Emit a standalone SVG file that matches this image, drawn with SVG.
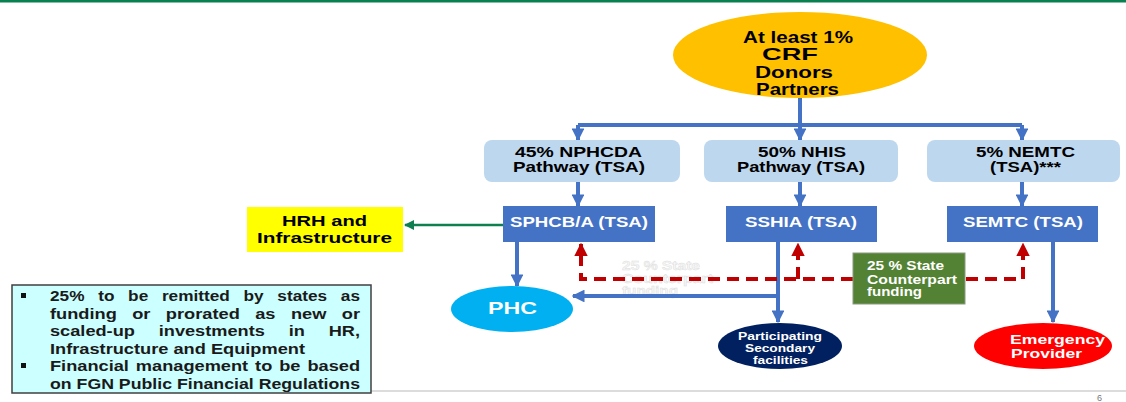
<svg xmlns="http://www.w3.org/2000/svg" width="1126" height="402" viewBox="0 0 1126 402">
<defs>
<style>
.t{font-family:"Liberation Sans",Arial,sans-serif;font-weight:bold}
.blk{fill:#000}
.wht{fill:#fff}
.pb{fill:#BDD7EE}
.db{fill:#4472C4}
.bl{stroke:#4472C4;stroke-width:4;fill:none}
.rd{stroke:#C00000;stroke-width:4;fill:none;stroke-dasharray:12 7}
.note{font-family:"Liberation Sans",Arial,sans-serif;font-weight:bold;font-size:15.5px;fill:#1a1a1a}
</style>
<marker id="ab" viewBox="0 0 10 10" refX="9" refY="5" markerWidth="3.2" markerHeight="3.2" orient="auto" markerUnits="strokeWidth"><path d="M0,0 L10,5 L0,10 z" fill="#4472C4"/></marker>
<marker id="ar" viewBox="0 0 10 10" refX="9" refY="5" markerWidth="3.4" markerHeight="3.4" orient="auto" markerUnits="strokeWidth"><path d="M0,0 L10,5 L0,10 z" fill="#C00000"/></marker>
<marker id="ag" viewBox="0 0 10 10" refX="9" refY="5" markerWidth="4" markerHeight="4" orient="auto" markerUnits="strokeWidth"><path d="M0,0 L10,5 L0,10 z" fill="#0E8050"/></marker>
</defs>
<rect x="0" y="0" width="1126" height="402" fill="#fff"/>
<rect x="0" y="0" width="1126" height="2.5" fill="#0A7F4F"/>
<line x1="370" y1="391" x2="1126" y2="391" stroke="#dcdcdc" stroke-width="2"/>
<text x="1097" y="401" font-family="Liberation Sans,Arial,sans-serif" font-size="9" fill="#777">6</text>

<g id="ghost">
<text fill="#f6f6f6" stroke="#dcdcdc" stroke-width="0.4" font-family="Liberation Sans,Arial,sans-serif" font-weight="bold" font-size="12.5">
<tspan x="622" y="270" textLength="78" lengthAdjust="spacingAndGlyphs">25 % State</tspan>
<tspan x="622" y="283" textLength="91" lengthAdjust="spacingAndGlyphs">Counterpart</tspan>
<tspan x="622" y="295" textLength="56" lengthAdjust="spacingAndGlyphs">funding</tspan></text>
</g>

<g id="connectors">
<line class="bl" x1="800" y1="96" x2="800" y2="125"/>
<line class="bl" x1="578" y1="125" x2="1022" y2="125"/>
<line class="bl" x1="578" y1="125" x2="578" y2="140" marker-end="url(#ab)"/>
<line class="bl" x1="800" y1="125" x2="800" y2="140" marker-end="url(#ab)"/>
<line class="bl" x1="1022" y1="125" x2="1022" y2="140" marker-end="url(#ab)"/>
<line class="bl" x1="578" y1="182" x2="578" y2="206" marker-end="url(#ab)"/>
<line class="bl" x1="800" y1="182" x2="800" y2="206" marker-end="url(#ab)"/>
<line class="bl" x1="1022" y1="182" x2="1022" y2="206" marker-end="url(#ab)"/>
<line x1="503" y1="225" x2="405" y2="225" stroke="#0E8050" stroke-width="2.5" marker-end="url(#ag)"/>
<line class="bl" x1="517" y1="242" x2="517" y2="286" marker-end="url(#ab)"/>
<line class="bl" x1="778" y1="242" x2="778" y2="322" marker-end="url(#ab)"/>
<line class="bl" x1="778" y1="296" x2="573" y2="296" marker-end="url(#ab)"/>
<line class="bl" x1="1053" y1="242" x2="1053" y2="322" marker-end="url(#ab)"/>
<path class="rd" d="M853,279 H581 V244" marker-end="url(#ar)"/>
<path class="rd" d="M798,279 V244" marker-end="url(#ar)"/>
<path class="rd" d="M966,279 H1023 V244" marker-end="url(#ar)"/>
</g>

<g id="top">
<ellipse cx="800" cy="55" rx="127" ry="43" fill="#FFC000"/>
<text class="t blk" font-size="16.5">
<tspan x="743" y="42.5" textLength="110" lengthAdjust="spacingAndGlyphs">At least 1%</tspan>
<tspan x="762" y="60" textLength="56" lengthAdjust="spacingAndGlyphs">CRF</tspan>
<tspan x="755" y="78" textLength="78" lengthAdjust="spacingAndGlyphs">Donors</tspan>
<tspan x="756" y="95" textLength="83" lengthAdjust="spacingAndGlyphs">Partners</tspan></text>
</g>
<g id="nphcda">
<rect class="pb" x="484" y="140" width="196" height="42" rx="8"/>
<text class="t blk" font-size="14"><tspan x="515" y="157" textLength="127" lengthAdjust="spacingAndGlyphs">45% NPHCDA</tspan><tspan x="513" y="172" textLength="132" lengthAdjust="spacingAndGlyphs">Pathway (TSA)</tspan></text>
</g>
<g id="nhis">
<rect class="pb" x="704" y="140" width="194" height="42" rx="8"/>
<text class="t blk" font-size="14"><tspan x="758" y="157" textLength="88" lengthAdjust="spacingAndGlyphs">50% NHIS</tspan><tspan x="737" y="172" textLength="128" lengthAdjust="spacingAndGlyphs">Pathway (TSA)</tspan></text>
</g>
<g id="nemtc">
<rect class="pb" x="927" y="140" width="193" height="42" rx="8"/>
<text class="t blk" font-size="14"><tspan x="976" y="157" textLength="99" lengthAdjust="spacingAndGlyphs">5% NEMTC</tspan><tspan x="990" y="172" textLength="71" lengthAdjust="spacingAndGlyphs">(TSA)***</tspan></text>
</g>
<g id="sphcb">
<rect class="db" x="503" y="206" width="152" height="36"/>
<text class="t wht" font-size="14" x="510" y="227" textLength="138" lengthAdjust="spacingAndGlyphs">SPHCB/A (TSA)</text>
</g>
<g id="sshia">
<rect class="db" x="726" y="206" width="151" height="36"/>
<text class="t wht" font-size="14" x="745" y="227" textLength="112" lengthAdjust="spacingAndGlyphs">SSHIA (TSA)</text>
</g>
<g id="semtc">
<rect class="db" x="947" y="206" width="151" height="36"/>
<text class="t wht" font-size="14" x="963" y="227" textLength="120" lengthAdjust="spacingAndGlyphs">SEMTC (TSA)</text>
</g>
<g id="hrh">
<rect x="247" y="207" width="156" height="45" fill="#FFFF00"/>
<text class="t blk" font-size="15.5"><tspan x="282" y="226" textLength="85" lengthAdjust="spacingAndGlyphs">HRH and</tspan><tspan x="257" y="243" textLength="135" lengthAdjust="spacingAndGlyphs">Infrastructure</tspan></text>
</g>
<g id="phc">
<ellipse cx="512" cy="309" rx="61" ry="23" fill="#00B0F0"/>
<text class="t wht" font-size="16.5" x="488" y="314" textLength="49" lengthAdjust="spacingAndGlyphs">PHC</text>
</g>
<g id="secondary">
<ellipse cx="780" cy="346" rx="62" ry="23" fill="#002060"/>
<text class="t wht" font-size="11"><tspan x="738" y="340" textLength="84" lengthAdjust="spacingAndGlyphs">Participating</tspan><tspan x="745" y="352" textLength="70" lengthAdjust="spacingAndGlyphs">Secondary</tspan><tspan x="753" y="364" textLength="55" lengthAdjust="spacingAndGlyphs">facilities</tspan></text>
</g>
<g id="emergency">
<ellipse cx="1043" cy="346" rx="69" ry="23" fill="#FF0000"/>
<text class="t wht" font-size="13.5"><tspan x="1010" y="344" textLength="95" lengthAdjust="spacingAndGlyphs">Emergency</tspan><tspan x="1011" y="358" textLength="71" lengthAdjust="spacingAndGlyphs">Provider</tspan></text>
</g>
<g id="counterpart">
<rect x="853" y="253" width="112" height="51" fill="#548235" stroke="#8a9a80" stroke-width="1"/>
<text class="t wht" font-size="12.5"><tspan x="867" y="270" textLength="77" lengthAdjust="spacingAndGlyphs">25 % State</tspan><tspan x="867" y="284" textLength="90" lengthAdjust="spacingAndGlyphs">Counterpart</tspan><tspan x="867" y="296" textLength="55" lengthAdjust="spacingAndGlyphs">funding</tspan></text>
</g>
<g id="note">
<rect x="12" y="285" width="359" height="108" fill="#CCFFFF" stroke="#404040" stroke-width="1.5"/>
<rect x="21" y="293" width="5" height="5" fill="#111"/>
<rect x="21" y="363" width="5" height="5" fill="#111"/>
<text class="note" x="50" y="301" word-spacing="8" textLength="310" lengthAdjust="spacingAndGlyphs">25% to be remitted by states as</text>
<text class="note" x="50" y="318.5" word-spacing="8.8" textLength="310" lengthAdjust="spacingAndGlyphs">funding or prorated as new or</text>
<text class="note" x="50" y="336" word-spacing="16" textLength="310" lengthAdjust="spacingAndGlyphs">scaled-up investments in HR,</text>
<text class="note" x="50" y="353.5" textLength="255" lengthAdjust="spacingAndGlyphs">Infrastructure and Equipment</text>
<text class="note" x="50" y="371" word-spacing="1.6" textLength="310" lengthAdjust="spacingAndGlyphs">Financial management to be based</text>
<text class="note" x="50" y="388.5" textLength="310" lengthAdjust="spacingAndGlyphs">on FGN Public Financial Regulations</text>
</g>
</svg>
